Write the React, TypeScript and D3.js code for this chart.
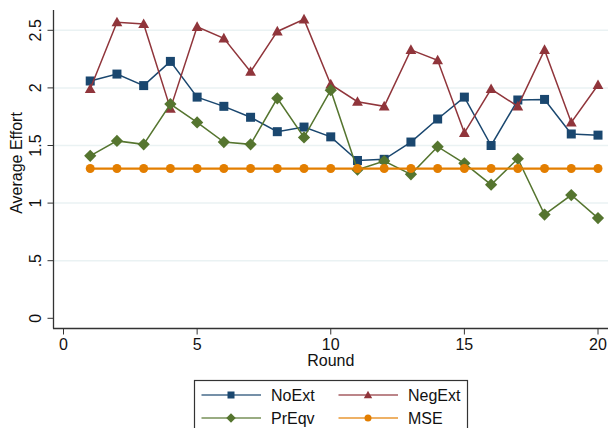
import { useEffect, useRef } from 'react';
import * as d3 from 'd3';

const rounds = d3.range(1, 21);
const noExt = [2.06, 2.12, 2.02, 2.23, 1.92, 1.84, 1.745, 1.62, 1.66, 1.575, 1.37, 1.38, 1.53, 1.73, 1.92, 1.5, 1.895, 1.9, 1.6, 1.59];
const negExt = [1.99, 2.57, 2.555, 1.82, 2.53, 2.43, 2.14, 2.49, 2.595, 2.03, 1.88, 1.84, 2.33, 2.24, 1.61, 1.99, 1.84, 2.33, 1.7, 2.025];
const prEqv = [1.41, 1.54, 1.51, 1.86, 1.7, 1.53, 1.51, 1.91, 1.57, 1.98, 1.29, 1.365, 1.25, 1.49, 1.345, 1.16, 1.385, 0.9, 1.07, 0.87];
const mse = [1.3, 1.3, 1.3, 1.3, 1.3, 1.3, 1.3, 1.3, 1.3, 1.3, 1.3, 1.3, 1.3, 1.3, 1.3, 1.3, 1.3, 1.3, 1.3, 1.3];
const yTicks = [0, 0.5, 1, 1.5, 2, 2.5];
const yTickLabels = ['0', '.5', '1', '1.5', '2', '2.5'];
const xTicks = [0, 5, 10, 15, 20];

const series = [
  { name: 'NoExt', values: noExt, color: '#1a476f', shape: 'square' },
  { name: 'NegExt', values: negExt, color: '#90353b', shape: 'triangle' },
  { name: 'PrEqv', values: prEqv, color: '#55752f', shape: 'diamond' },
  { name: 'MSE', values: mse, color: '#e37e00', shape: 'circle' },
];

const FONT = '"Liberation Sans", Arial, sans-serif';

const App = () => {
  const ref = useRef<HTMLDivElement>(null);

  useEffect(() => {
    d3.select(ref.current).selectAll('*').remove();

    const width = 608; const height = 428;

    const x = d3.scaleLinear().domain([0, 20]).range([63.5, 598]);
    const y = d3.scaleLinear().domain([0, 2.5]).range([318.3, 30.3]);

    const svg = d3.select(ref.current)
      .append('svg')
      .attr('width', width)
      .attr('height', height)
      .style('position', 'absolute')
      .style('left', 0)
      .style('top', 0)
      .style('font-family', FONT);

    svg.append('rect').attr('width', width).attr('height', height).attr('fill', 'white');

    // gridlines
    svg.selectAll('.grid')
      .data(yTicks.slice(1))
      .enter()
      .append('line')
      .attr('x1', 54).attr('x2', 608)
      .attr('y1', d => y(d)).attr('y2', d => y(d))
      .attr('stroke', '#eaf2f3')
      .attr('stroke-width', 1.5);

    // y axis
    const yAxis = svg.append('g').attr('transform', 'translate(53.5,0)');
    yAxis.append('line').attr('x1', 0).attr('x2', 0).attr('y1', 10).attr('y2', 328.5)
      .attr('stroke', '#333').attr('stroke-width', 1.3);
    yAxis.selectAll('.yt')
      .data(yTicks)
      .enter()
      .append('line')
      .attr('x1', -6).attr('x2', 0)
      .attr('y1', d => y(d)).attr('y2', d => y(d))
      .attr('stroke', '#333');
    yAxis.selectAll('.yl')
      .data(yTicks)
      .enter()
      .append('text')
      .text((d, i) => yTickLabels[i])
      .attr('transform', d => `translate(-13, ${y(d)}) rotate(-90)`)
      .attr('text-anchor', 'middle')
      .attr('font-size', 16)
      .attr('fill', '#111');

    svg.append('text')
      .text('Average Effort')
      .attr('transform', 'translate(22, 163) rotate(-90)')
      .attr('text-anchor', 'middle')
      .attr('font-size', 16)
      .attr('fill', '#111');

    // x axis
    svg.append('line').attr('x1', 53).attr('x2', 608).attr('y1', 328.5).attr('y2', 328.5)
      .attr('stroke', '#333').attr('stroke-width', 1.3);
    svg.selectAll('.xt')
      .data(xTicks)
      .enter()
      .append('line')
      .attr('x1', d => x(d)).attr('x2', d => x(d))
      .attr('y1', 328.5).attr('y2', 334.5)
      .attr('stroke', '#333');
    svg.selectAll('.xl')
      .data(xTicks)
      .enter()
      .append('text')
      .text(d => d)
      .attr('x', d => x(d))
      .attr('y', 350)
      .attr('text-anchor', 'middle')
      .attr('font-size', 16)
      .attr('fill', '#111');
    svg.append('text')
      .text('Round')
      .attr('x', x(10)).attr('y', 366)
      .attr('text-anchor', 'middle')
      .attr('font-size', 16)
      .attr('fill', '#111');

    function drawMarker(g, shape, cx, cy, color, s) {
      if (shape === 'square') {
        g.append('rect').attr('x', cx - s / 2).attr('y', cy - s / 2).attr('width', s).attr('height', s).attr('fill', color);
      } else if (shape === 'triangle') {
        const h = s * 1.0;
        g.append('path')
          .attr('d', `M${cx},${cy - h * 0.62}L${cx + s * 0.6},${cy + h * 0.45}L${cx - s * 0.6},${cy + h * 0.45}Z`)
          .attr('fill', color);
      } else if (shape === 'diamond') {
        const r = s * 0.68;
        g.append('path')
          .attr('d', `M${cx},${cy - r}L${cx + r},${cy}L${cx},${cy + r}L${cx - r},${cy}Z`)
          .attr('fill', color);
      } else {
        g.append('circle').attr('cx', cx).attr('cy', cy).attr('r', s / 2).attr('fill', color);
      }
    }

    const line = d3.line<number>()
      .x((d, i) => x(rounds[i]))
      .y(d => y(d));

    series.forEach(s => {
      const g = svg.append('g');
      g.append('path')
        .attr('d', line(s.values))
        .attr('fill', 'none')
        .attr('stroke', s.color)
        .attr('stroke-width', s.name === 'MSE' ? 2.2 : 1.5);
      s.values.forEach((v, i) => drawMarker(g, s.shape, x(rounds[i]), y(v), s.color, 9));
    });

    // legend
    const legend = svg.append('g');
    legend.append('rect')
      .attr('x', 194.5).attr('y', 380.5)
      .attr('width', 273).attr('height', 60)
      .attr('fill', 'white')
      .attr('stroke', '#333')
      .attr('stroke-width', 1.2);
    const cols = [201.5, 338.5];
    const rows = [395, 418];
    series.forEach((s, i) => {
      const lx = cols[i % 2];
      const ly = rows[Math.floor(i / 2)];
      legend.append('line')
        .attr('x1', lx).attr('x2', lx + 59.5)
        .attr('y1', ly).attr('y2', ly)
        .attr('stroke', s.color)
        .attr('stroke-opacity', 0.8)
        .attr('stroke-width', 1.5);
      drawMarker(legend, s.shape, lx + 29.5, ly, s.color, 7);
      legend.append('text')
        .text(s.name)
        .attr('x', lx + 69.5).attr('y', ly + 6)
        .attr('font-size', 16)
        .attr('fill', '#111');
    });
  }, []);

  return <div ref={ref}></div>;
};

export default App;
